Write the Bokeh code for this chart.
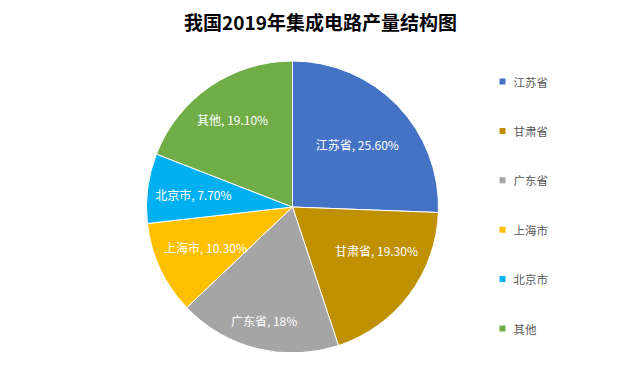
import math
from bokeh.plotting import figure
from bokeh.models import Range1d, ColumnDataSource
from bokeh.core.properties import value
from bokeh.embed import file_html
from bokeh.resources import INLINE

# ---- data ----
title = "我国2019年集成电路产量结构图"
regions = ["江苏省", "甘肃省", "广东省", "上海市", "北京市", "其他"]
shares = [25.6, 19.3, 18.0, 10.3, 7.7, 19.1]
share_labels = ["25.60%", "19.30%", "18%", "10.30%", "7.70%", "19.10%"]
colors = ["#4472C4", "#BF9000", "#A5A5A5", "#FFC000", "#00B0F0", "#70AD47"]

# ---- layout (screen-pixel coordinates, y flipped below) ----
W, H = 626, 352
cx, cy_s, R = 292, 206.5, 146
label_r = [90, 95, 117, 96, 100, 106]
label_nudge = [(0, 0), (8, -14), (0, 0), (0, 0), (0, 0), (0, 0)]
FONT = value("Noto Sans CJK SC")

def Y(ys):
    return H - ys

p = figure(width=W, height=H, output_backend="svg", toolbar_location=None,
           x_range=Range1d(0, W), y_range=Range1d(0, H),
           x_axis_type=None, y_axis_type=None, min_border=0)
p.outline_line_color = None
p.xgrid.visible = False
p.ygrid.visible = False

total = sum(shares)
starts, ends, lx, ly, texts = [], [], [], [], []
cum = 0.0
for i, s in enumerate(shares):
    a0 = math.pi / 2 - 2 * math.pi * cum / total
    cum += s
    a1 = math.pi / 2 - 2 * math.pi * cum / total
    starts.append(a0)
    ends.append(a1)
    mid = (a0 + a1) / 2
    lx.append(cx + label_r[i] * math.cos(mid) + label_nudge[i][0])
    ly.append(Y(cy_s) + label_r[i] * math.sin(mid) - label_nudge[i][1])
    texts.append(f"{regions[i]}, {share_labels[i]}")

src = ColumnDataSource(dict(start=starts, end=ends, color=colors))
p.wedge(x=cx, y=Y(cy_s), radius=R, start_angle="start", end_angle="end",
        direction="clock", fill_color="color", line_color="white",
        line_width=1, source=src)

p.text(x=lx, y=ly, text=texts, text_color="white", text_font=FONT,
       text_font_size="12px", text_align="center", text_baseline="middle")

# title
p.text(x=[320], y=[Y(21)], text=[title], text_font=FONT, text_font_size="19px",
       text_font_style="bold", text_color="#000000", text_align="center",
       text_baseline="middle")

# legend
leg_y = [Y(81 + i * 49.4) for i in range(len(regions))]
p.scatter(x=[502] * len(regions), y=leg_y, marker="square", size=6,
          fill_color=colors, line_color=None)
p.text(x=[513] * len(regions), y=leg_y, text=regions, text_font=FONT,
       text_font_size="11.5px", text_color="#595959", text_align="left",
       text_baseline="middle")

open("out.html", "w").write(file_html(p, INLINE))
